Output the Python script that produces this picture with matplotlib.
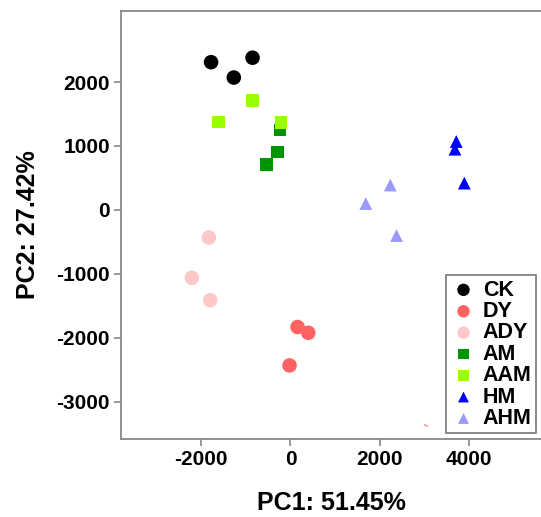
import matplotlib
matplotlib.use("Agg")
import matplotlib.pyplot as plt

plt.rcParams["font.family"] = ["Liberation Sans", "DejaVu Sans"]
plt.rcParams["font.weight"] = "bold"
plt.rcParams["axes.unicode_minus"] = False

# PCA scores
groups = ["CK", "DY", "ADY", "AM", "AAM", "HM", "AHM"]
ck_x = [-1780, -1270, -850]
ck_y = [2310, 2070, 2380]
dy_x = [160, 400, -20]
dy_y = [-1830, -1920, -2430]
ady_x = [-1830, -2210, -1800]
ady_y = [-430, -1060, -1410]
am_x = [-240, -290, -540]
am_y = [1250, 910, 710]
aam_x = [-850, -1610, -210]
aam_y = [1710, 1375, 1370]
hm_x = [3720, 3690, 3900]
hm_y = [1070, 950, 420]
ahm_x = [2240, 1690, 2380]
ahm_y = [390, 100, -400]

colors = {"CK": "#000000", "DY": "#FF6262", "ADY": "#FFC8C8", "AM": "#009400",
          "AAM": "#99FF00", "HM": "#0000FF", "AHM": "#9A9AFF"}
markers = {"CK": "o", "DY": "o", "ADY": "o", "AM": "s", "AAM": "s", "HM": "^", "AHM": "^"}
sizes = {"o": 110, "s": 80, "^": 85}
data = {"CK": (ck_x, ck_y), "DY": (dy_x, dy_y), "ADY": (ady_x, ady_y),
        "AM": (am_x, am_y), "AAM": (aam_x, aam_y), "HM": (hm_x, hm_y),
        "AHM": (ahm_x, ahm_y)}

fig = plt.figure(figsize=(5.41, 5.17), dpi=100)
ax = fig.add_axes([0.2237, 0.1509, 0.7763, 0.8278])

for g in groups:
    x, y = data[g]
    m = markers[g]
    ax.scatter(x, y, s=sizes[m], marker=m, color=colors[g], edgecolors="none",
               label=g, zorder=3)

# small red speck visible near the lower right of the original
ax.plot([3010, 3070], [-3360, -3380], color="#FF6262", lw=0.8)

ax.set_xlim(-3800, 5620)
ax.set_ylim(-3580, 3110)
ax.set_xticks([-2000, 0, 2000, 4000])
ax.set_yticks([-3000, -2000, -1000, 0, 1000, 2000])

for side in ("left", "bottom", "top"):
    ax.spines[side].set_color("#888888")
    ax.spines[side].set_linewidth(1.3)
ax.spines["right"].set_visible(False)
ax.tick_params(direction="out", length=5, width=1.2, color="#888888",
               labelsize=15, pad=3)
for lab in ax.get_xticklabels() + ax.get_yticklabels():
    lab.set_fontweight("bold")

ax.set_xlabel("PC1: 51.45%", fontsize=18, fontweight="bold", labelpad=16)
ax.set_ylabel("PC2: 27.42%", fontsize=18, fontweight="bold", labelpad=12)

leg = ax.legend(loc="lower right", bbox_to_anchor=(0.9985, 0.003),
                prop={"size": 15.5, "weight": "bold"}, frameon=True, fancybox=False,
                handletextpad=0.3, handlelength=1.2, labelspacing=0.02,
                borderpad=0.2, borderaxespad=0.2, markerscale=0.85)
leg.get_frame().set_edgecolor("#555555")
leg.get_frame().set_linewidth(1.2)

fig.savefig("out.png", dpi=100)
